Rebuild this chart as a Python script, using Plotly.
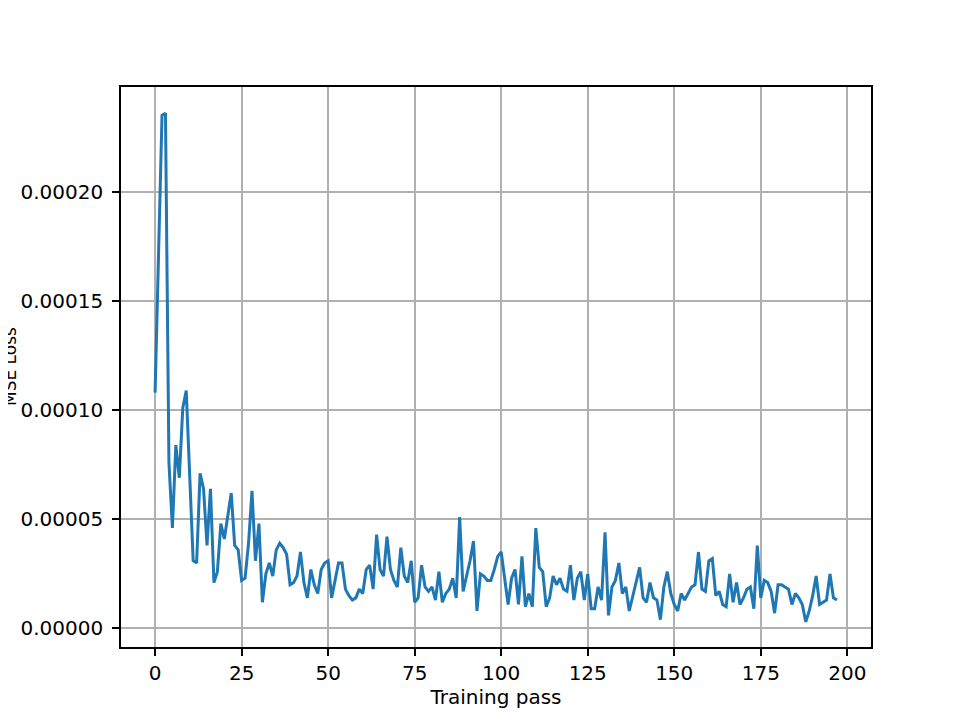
import plotly.graph_objects as go

passes = list(range(198))
loss = [
    0.000108, 0.000172, 0.000235, 0.000236, 0.000076, 0.000046, 0.000084, 0.000069, 0.000101, 0.000109,
    0.000068, 0.000031, 0.000030, 0.000071, 0.000064, 0.000038, 0.000064, 0.000021, 0.000026, 0.000048,
    0.000041, 0.000051, 0.000062, 0.000038, 0.000036, 0.000022, 0.000023, 0.000039, 0.000063, 0.000031,
    0.000048, 0.000012, 0.000025, 0.000030, 0.000024, 0.000036, 0.000039, 0.000037, 0.000034, 0.000020,
    0.000021, 0.000024, 0.000035, 0.000021, 0.000014, 0.000027, 0.000020, 0.000016, 0.000027, 0.000030,
    0.000031, 0.000014, 0.000022, 0.000030, 0.000030, 0.000018, 0.000015, 0.000013, 0.000014, 0.000018,
    0.000016, 0.000027, 0.000029, 0.000018, 0.000043, 0.000027, 0.000024, 0.000042, 0.000027, 0.000022,
    0.000019, 0.000037, 0.000024, 0.000021, 0.000031, 0.000012, 0.000014, 0.000029, 0.000019, 0.000017,
    0.000019, 0.000013, 0.000026, 0.000012, 0.000016, 0.000018, 0.000023, 0.000014, 0.000051, 0.000017,
    0.000024, 0.000031, 0.000040, 0.000008, 0.000025, 0.000024, 0.000022, 0.000022, 0.000027, 0.000033,
    0.000035, 0.000024, 0.000011, 0.000023, 0.000027, 0.000011, 0.000033, 0.000010, 0.000016, 0.000010,
    0.000046, 0.000028, 0.000026, 0.000010, 0.000014, 0.000024, 0.000020, 0.000023, 0.000018, 0.000017,
    0.000029, 0.000013, 0.000023, 0.000026, 0.000013, 0.000025, 0.000009, 0.000009, 0.000019, 0.000013,
    0.000044, 0.000006, 0.000019, 0.000022, 0.000030, 0.000016, 0.000019, 0.000008, 0.000015, 0.000022,
    0.000028, 0.000014, 0.000012, 0.000021, 0.000014, 0.000013, 0.000004, 0.000019, 0.000026, 0.000016,
    0.000011, 0.000008, 0.000016, 0.000013, 0.000016, 0.000019, 0.000020, 0.000035, 0.000018, 0.000017,
    0.000031, 0.000032, 0.000015, 0.000017, 0.000011, 0.000010, 0.000025, 0.000012, 0.000021, 0.000011,
    0.000014, 0.000018, 0.000019, 0.000009, 0.000038, 0.000014, 0.000022, 0.000021, 0.000017, 0.000007,
    0.000020, 0.000020, 0.000019, 0.000018, 0.000011, 0.000016, 0.000014, 0.000011, 0.000003, 0.000008,
    0.000015, 0.000024, 0.000011, 0.000012, 0.000013, 0.000025, 0.000014, 0.000013,
]
x_ticks = [0, 25, 50, 75, 100, 125, 150, 175, 200]
y_ticks = [0.0, 0.00005, 0.00010, 0.00015, 0.00020]
y_tick_labels = ["0.00000", "0.00005", "0.00010", "0.00015", "0.00020"]

font = dict(family="DejaVu Sans", size=20, color="black")
ytitle_font = dict(family="DejaVu Sans", size=17, color="black")

fig = go.Figure()
fig.add_trace(go.Scatter(x=passes, y=loss, mode="lines",
                         line=dict(color="#1f77b4", width=3), showlegend=False))

axis_common = dict(showline=True, linecolor="black", linewidth=1.6, mirror=True,
                   showgrid=True, gridcolor="#b0b0b0", gridwidth=1.6,
                   ticks="outside", ticklen=7, tickwidth=1.6, tickcolor="black",
                   zeroline=False, tickfont=font)

fig.update_xaxes(range=[-9.85, 206.85], tickvals=x_ticks, ticklabelstandoff=0,
                 title=dict(text="Training pass", font=font, standoff=6), **axis_common)
fig.update_yaxes(range=[-0.0000085, 0.000248], tickvals=y_ticks, ticktext=y_tick_labels,
                 ticklabelstandoff=5, **axis_common)

fig.add_annotation(text="MSE Loss", xref="paper", yref="paper", x=0, y=0.5,
                   xanchor="center", yanchor="middle", xshift=-111, textangle=-90,
                   showarrow=False, font=ytitle_font)

fig.update_layout(width=968, height=726, plot_bgcolor="white", paper_bgcolor="white",
                  margin=dict(l=113, r=105, t=79, b=87, autoexpand=False), font=font)

fig.write_html("out.html")
